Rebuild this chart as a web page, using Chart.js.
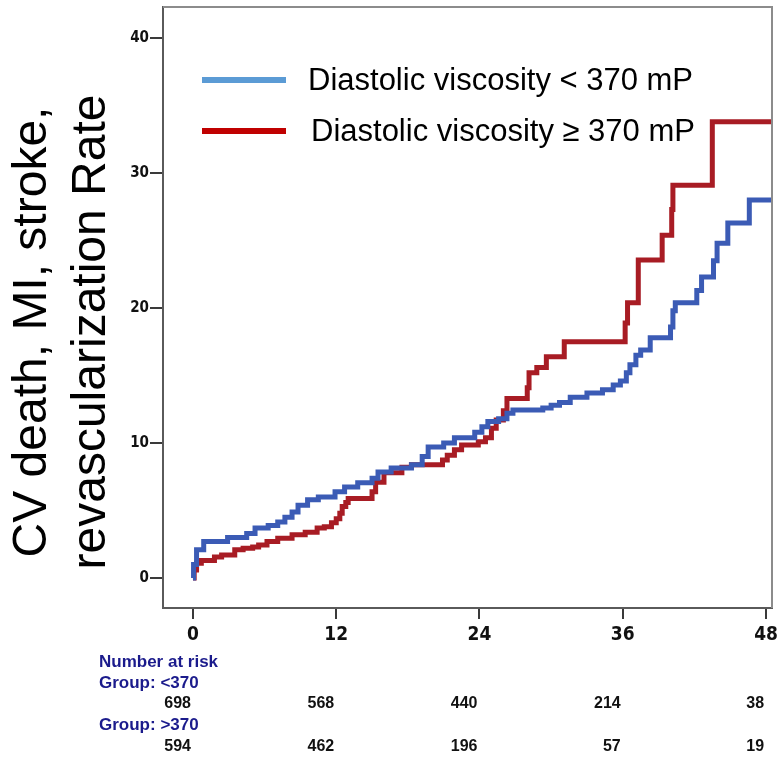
<!DOCTYPE html>
<html>
<head>
<meta charset="utf-8">
<script src="https://cdn.jsdelivr.net/npm/chart.js@4.4.1/dist/chart.umd.min.js"></script>
<style>
  html, body { margin: 0; padding: 0; background: #ffffff; }
  #wrap { width: 777px; height: 759px; }
</style>
</head>
<body>
<div id="wrap"><canvas id="km" width="777" height="759"></canvas></div>
<script>
// Follow-up time (months) at which each cumulative event rate (%) starts
const lowTimes = [0, 0.05, 0.3, 0.9, 2.9, 4.5, 5.2, 6.3, 7.1, 7.7, 8.3, 8.8, 9.6, 10.5, 11.9, 12.7, 13.8, 15.0, 15.5, 16.6, 18.3, 19.2, 19.7, 21.0, 21.9, 23.6, 24.2, 24.7, 25.6, 26.3, 26.8, 29.3, 30.0, 30.7, 31.6, 33.0, 34.3, 35.2, 35.8, 36.3, 36.6, 37.1, 37.5, 38.3, 40.0, 40.2, 40.4, 42.2, 42.6, 43.6, 43.9, 44.8, 46.6, 48.5];
const lowRates = [0, 1.0, 2.1, 2.7, 3.0, 3.3, 3.7, 3.9, 4.15, 4.5, 4.9, 5.4, 5.8, 6.0, 6.4, 6.75, 7.05, 7.4, 7.85, 8.15, 8.4, 9.0, 9.7, 10.0, 10.4, 10.8, 11.2, 11.6, 11.8, 12.2, 12.45, 12.6, 12.8, 13.0, 13.4, 13.7, 13.95, 14.3, 14.6, 15.2, 15.8, 16.5, 16.9, 17.8, 18.6, 19.8, 20.4, 21.3, 22.3, 23.5, 24.8, 26.3, 28.0, 28.0];

const highTimes = [0, 0.1, 0.3, 0.7, 1.8, 2.4, 3.5, 4.2, 5.0, 5.5, 6.2, 7.1, 8.3, 9.4, 10.4, 11.0, 11.6, 12.0, 12.3, 12.5, 12.8, 13.0, 15.0, 15.3, 16.0, 17.5, 18.3, 20.9, 21.3, 21.9, 22.5, 23.9, 24.5, 25.0, 25.4, 26.0, 26.3, 28.0, 28.15, 28.8, 29.6, 31.1, 36.2, 36.4, 37.3, 39.3, 40.1, 40.2, 43.5, 48.5];
const highRates = [0, 0.6, 1.1, 1.3, 1.55, 1.7, 2.1, 2.2, 2.3, 2.45, 2.7, 2.95, 3.2, 3.4, 3.7, 3.8, 4.1, 4.4, 4.8, 5.3, 5.6, 5.9, 6.4, 7.1, 7.8, 8.2, 8.4, 8.75, 9.1, 9.5, 9.85, 10.1, 10.4, 11.1, 11.7, 12.4, 13.3, 14.1, 15.2, 15.6, 16.4, 17.5, 18.9, 20.4, 23.55, 25.4, 27.3, 29.1, 33.8, 33.8];

const monthTicks = [0, 12, 24, 36, 48];
const rateTicks = [0, 10, 20, 30, 40];

const seriesLabels = ['Diastolic viscosity < 370 mP', 'Diastolic viscosity \u2265 370 mP'];
const riskGroupLabels = ['Group: <370', 'Group: >370'];
const riskLow = [698, 568, 440, 214, 38];
const riskHigh = [594, 462, 196, 57, 19];

const toPoints = (ts, vs) => ts.map((t, i) => ({ x: t, y: vs[i] }));

const NARROW = "'Liberation Sans Narrow', 'Arial Narrow', 'DejaVu Sans Condensed', sans-serif";
const SANS = "'Liberation Sans', Arial, Helvetica, sans-serif";

const legendColors = ['#5b9bd5', '#c00000'];

// Frame, legend, rotated axis title and the number-at-risk table
const decorations = {
  id: 'decorations',
  afterDraw(chart) {
    const { ctx, chartArea: a, scales } = chart;
    ctx.save();

    // upper and right edges of the plot frame
    ctx.strokeStyle = '#8c8c8c';
    ctx.lineWidth = 2;
    ctx.beginPath();
    ctx.moveTo(a.left, a.top);
    ctx.lineTo(a.right, a.top);
    ctx.lineTo(a.right, a.bottom);
    ctx.stroke();

    // legend
    const legendY = [80, 131];
    const textX = [308, 311];
    ctx.lineWidth = 6;
    ctx.lineCap = 'butt';
    ctx.font = '31px ' + SANS;
    ctx.textBaseline = 'middle';
    ctx.textAlign = 'left';
    seriesLabels.forEach((label, i) => {
      ctx.strokeStyle = legendColors[i];
      ctx.beginPath();
      ctx.moveTo(202, legendY[i]);
      ctx.lineTo(286, legendY[i]);
      ctx.stroke();
      ctx.fillStyle = '#000000';
      ctx.fillText(label, textX[i], legendY[i] + 1);
    });

    // y-axis title, two lines
    ctx.save();
    ctx.translate(0, 332);
    ctx.rotate(-Math.PI / 2);
    ctx.font = '48px ' + SANS;
    ctx.textAlign = 'center';
    ctx.textBaseline = 'middle';
    ctx.fillStyle = '#000000';
    ctx.fillText('CV death, MI, stroke,', 0, 33);
    ctx.fillText('revascularization Rate', 0, 92);
    ctx.restore();

    // number at risk
    const x = scales.x;
    ctx.textBaseline = 'middle';
    ctx.textAlign = 'left';
    ctx.fillStyle = '#1b1b8c';
    ctx.font = 'bold 17px ' + SANS;
    ctx.fillText('Number at risk', 99, 662);
    ctx.fillText(riskGroupLabels[0], 99, 683);
    ctx.fillText(riskGroupLabels[1], 99, 725);
    ctx.fillStyle = '#111111';
    ctx.font = 'bold 16px ' + SANS;
    ctx.textAlign = 'right';
    monthTicks.forEach((m, i) => {
      const px = x.getPixelForValue(m) - 2;
      ctx.fillText(String(riskLow[i]), px, 704);
      ctx.fillText(String(riskHigh[i]), px, 747);
    });

    ctx.restore();
  }
};

new Chart(document.getElementById('km'), {
  type: 'line',
  data: {
    datasets: [
      {
        label: seriesLabels[0],
        data: toPoints(lowTimes, lowRates),
        borderColor: '#3b5bb5',
        borderWidth: 5,
        stepped: 'before',
        pointRadius: 0,
        fill: false,
        borderJoinStyle: 'miter',
        borderCapStyle: 'butt'
      },
      {
        label: seriesLabels[1],
        data: toPoints(highTimes, highRates),
        borderColor: '#a81c24',
        borderWidth: 5,
        stepped: 'before',
        pointRadius: 0,
        fill: false,
        borderJoinStyle: 'miter',
        borderCapStyle: 'butt'
      }
    ]
  },
  options: {
    responsive: false,
    animation: false,
    events: [],
    layout: { padding: { left: 0, top: 7, right: 5, bottom: 111 } },
    plugins: { legend: { display: false }, tooltip: { enabled: false } },
    scales: {
      x: {
        type: 'linear',
        min: -2.51,
        max: 48.5,
        afterBuildTicks: s => { s.ticks = monthTicks.map(v => ({ value: v })); },
        afterFit: s => { s.height = 40; s.paddingLeft = 0; s.paddingRight = 0; },
        grid: { drawOnChartArea: false, drawTicks: true, tickLength: 11, color: '#3a3a3a', lineWidth: 2 },
        border: { display: true, color: '#5a5a5a', width: 2 },
        ticks: {
          color: '#111111',
          padding: 5,
          maxRotation: 0,
          autoSkip: false,
          font: { family: NARROW, weight: 'bold', size: 19 }
        }
      },
      y: {
        type: 'linear',
        min: -2.22,
        max: 42.3,
        afterBuildTicks: s => { s.ticks = rateTicks.map(v => ({ value: v })); },
        afterFit: s => { s.width = 163; s.paddingTop = 0; s.paddingBottom = 0; },
        grid: { drawOnChartArea: false, drawTicks: true, tickLength: 13, color: '#3a3a3a', lineWidth: 2 },
        border: { display: true, color: '#5a5a5a', width: 2 },
        ticks: {
          color: '#111111',
          padding: 1,
          autoSkip: false,
          font: { family: NARROW, weight: 'bold', size: 15 }
        }
      }
    }
  },
  plugins: [decorations]
});
</script>
</body>
</html>
